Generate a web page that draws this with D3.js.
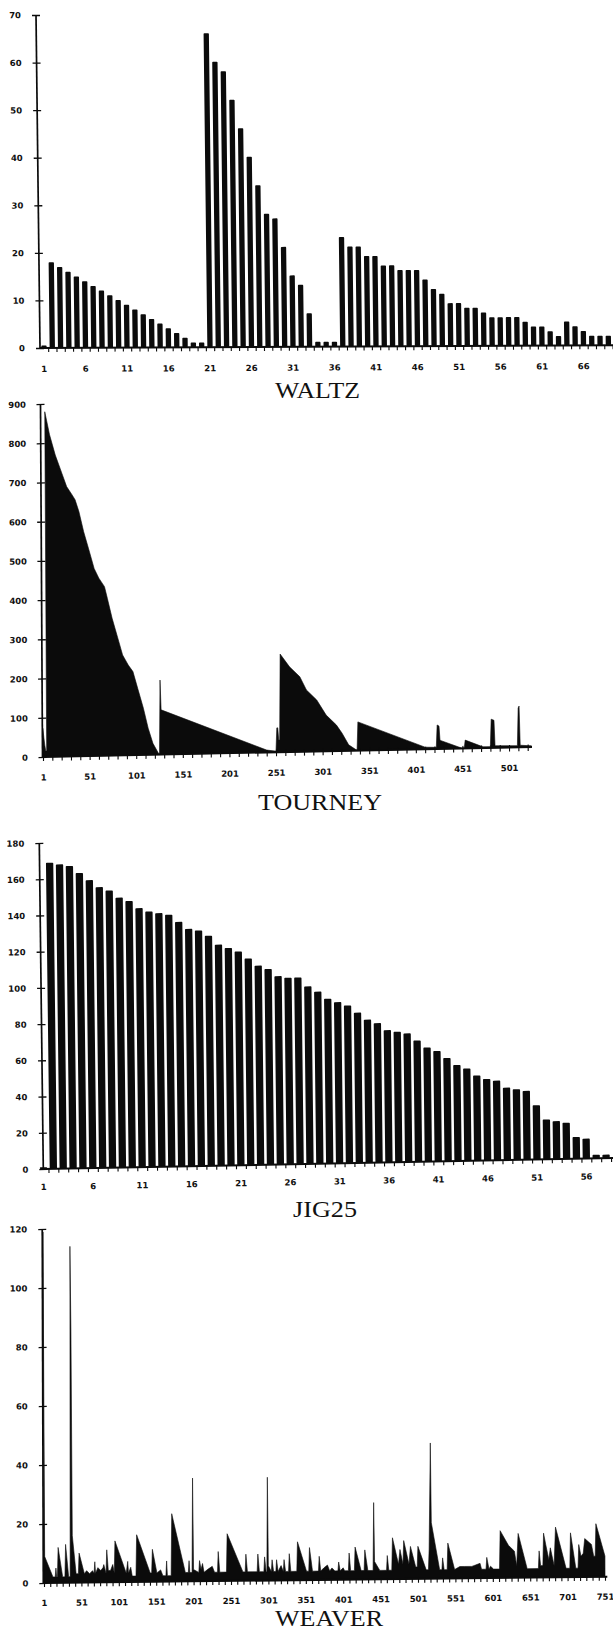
<!DOCTYPE html>
<html><head><meta charset="utf-8">
<script src="https://cdn.jsdelivr.net/npm/d3@7"></script>
<style>
html,body{margin:0;padding:0;background:#fff;}
svg{display:block;}
.tick-label{font-family:"DejaVu Sans",sans-serif;font-weight:bold;font-size:8.5px;fill:#111;}
.title{font-family:"Liberation Serif","Times New Roman",serif;font-size:23px;fill:#111;}
</style></head><body>
<svg id="chart" width="613" height="1633"></svg>
<script>
// ---------------- DATA ----------------
const waltzCategories = d3.range(1, 70);
const waltzValues = [0.5,18,17,16,15,14,13,12,11,10,9,8,7,6,5,4,3,2,1,1,
  66,60,58,52,46,40,34,28,27,21,15,13,7,1,1,1,
  23,21,21,19,19,17,17,16,16,16,14,12,11,9,9,8,8,7,6,6,6,6,5,4,4,3,2,5,4,3,2,2,2];
const waltzYTicks = [0,10,20,30,40,50,60,70];
const waltzXLabels = d3.range(1, 70, 5);

const tourneyPoints = [[1,0],[1,73],[2,50],[3,30],[4,15],[5,15],[5,880],[10,821],[16,769],[23,722],[28,688],
  [34,666],[37,654],[41,624],[46,572],[51,530],[57,478],[62,453],[68,431],[71,401],[76,350],[82,299],
  [87,256],[93,230],[98,213],[103,170],[109,119],[114,68],[119,29],[125,3],[126,3],[127,190],[128,114],
  [241,6],[250,3],[251,3],[252,62],[253,62],[254,31],[255,31],[256,250],[266,217],[277,191],[284,157],
  [295,131],[305,92],[316,66],[322,45],[329,15],[337,2],[338,2],[339,73],[411,5],[423,4],[424,61],
  [426,58],[427,22],[429,20],[450,1],[453,1],[454,21],[473,3],[481,3],[482,73],[485,70],[486,5],
  [510,4],[511,100],[512,105],[513,5],[525,3],[525,0]];
const tourneyYTicks = d3.range(0, 1000, 100);
const tourneyXLabels = d3.range(1, 502, 50);

const jigCategories = d3.range(1, 59);
const jigValues = [1,169,168,167,163,159,155,153,149,147,143,141,140,139,135,131,130,127,122,120,
  118,114,110,108,104,103,103,98,95,91,89,87,83,79,77,73,72,71,67,63,61,57,53,51,47,45,44,40,39,38,
  30,22,21,20,12,11,2,2];
const jigYTicks = d3.range(0, 200, 20);
const jigXLabels = d3.range(1, 57, 5);

const weaverPoints = [[1,0],[1,119],[2,9],[13,2],[16,2],[17,5],[18,2],[19,2],[20,12],[26,2],[29,2],[30,13],
  [34,2],[36,2],[37,114],[38,85],[39,16],[44,3],[47,3],[48,10],[55,3],[58,4],[62,3],[66,4],[68,3],[69,7],
  [70,3],[73,5],[77,4],[80,5],[81,6],[84,3],[85,11],[87,4],[90,4],[93,6],[95,3],[96,14],[111,3],[113,7],
  [114,3],[117,5],[119,2],[124,2],[125,16],[143,3],[145,3],[146,11],[152,3],[157,4],[160,2],[164,2],
  [165,7],[166,2],[171,2],[172,23],[190,3],[194,3],[195,7],[196,3],[199,3],[200,35],[201,4],[208,3],
  [209,7],[211,4],[213,6],[215,3],[220,4],[226,5],[229,3],[233,3],[234,10],[236,3],[245,3],[246,16],
  [267,3],[270,3],[271,9],[273,3],[286,3],[287,9],[289,3],[295,3],[296,8],[298,3],[299,3],[300,35],
  [301,5],[305,3],[306,7],[308,3],[311,3],[312,7],[314,3],[318,5],[321,3],[322,7],[324,3],[328,3],
  [329,9],[331,3],[339,3],[340,13],[352,3],[355,3],[356,11],[360,3],[368,3],[369,8],[371,3],[375,4],
  [380,5],[383,3],[386,4],[390,3],[394,3],[395,6],[397,3],[401,4],[403,3],[408,3],[409,9],[411,3],
  [416,3],[417,11],[425,3],[429,3],[430,10],[434,3],[441,3],[442,26],[443,6],[450,3],[459,3],[460,8],
  [462,3],[466,3],[467,14],[475,5],[477,10],[481,5],[482,13],[489,5],[491,11],[498,4],[500,4],[501,11],
  [512,3],[515,3],[516,10],[518,46],[519,19],[530,3],[533,3],[534,7],[536,3],[540,3],[541,12],[550,3],
  [557,4],[563,4],[573,4],[584,5],[586,3],[592,3],[593,7],[596,3],[598,4],[602,3],[610,3],[611,16],
  [622,11],[630,9],[633,4],[635,15],[647,3],[662,3],[663,9],[665,4],[668,4],[669,15],[672,11],[676,6],
  [678,10],[683,4],[685,17],[699,3],[704,3],[705,15],[712,3],[715,3],[716,11],[719,7],[722,8],[724,13],
  [733,11],[736,7],[738,7],[739,18],[751,7],[751,0]];
const weaverYTicks = d3.range(0, 140, 20);
const weaverXLabels = d3.range(1, 752, 50);

const titles = ["WALTZ", "TOURNEY", "JIG25", "WEAVER"];

// ---------------- DRAWING ----------------
const svg = d3.select("#chart");
const INK = "#0b0b0b";

function panelGroup(c) {
  return svg.append("g").attr("transform", `matrix(1,${c.ky},${c.kx},1,${c.ox},${c.oy})`);
}

function styleAxis(a) {
  a.attr("font-family", null).attr("font-size", null);
  a.selectAll("text").attr("class", "tick-label").attr("fill", null);
  a.selectAll("line").attr("stroke", INK);
  a.select(".domain").remove();
}

function yAxis(g, y, ticks, top, pad) {
  const a = g.append("g").call(d3.axisLeft(y).tickValues(ticks).tickSizeInner(4).tickSizeOuter(0).tickPadding(pad));
  styleAxis(a);
  a.selectAll(".tick line").attr("x1", 4).attr("stroke-width", 1.3);
  g.append("line").attr("x1", 0).attr("x2", 0).attr("y1", 1).attr("y2", y(top))
    .attr("stroke", INK).attr("stroke-width", 1.7);
}

function baseline(g, end) {
  g.append("line").attr("x1", 0).attr("x2", end).attr("y1", 0).attr("y2", 0)
    .attr("stroke", INK).attr("stroke-width", 2);
}

function barPanel(c, cats, vals, yTicks, xLabels) {
  const g = panelGroup(c);
  const r1 = c.r0 + cats.length * c.step;
  const x = d3.scaleBand().domain(cats).range([c.r0, r1]).paddingInner(c.pad).paddingOuter(c.pad / 2);
  const y = d3.scaleLinear().domain([0, c.yMax]).range([0, -c.h]);
  g.selectAll("rect.bar").data(cats).join("rect").attr("class", "bar")
    .attr("x", d => x(d)).attr("width", x.bandwidth())
    .attr("y", (d, i) => y(vals[i])).attr("height", (d, i) => -y(vals[i]))
    .attr("rx", 0.8).attr("fill", INK);
  const xb = d3.scaleLinear().domain([0, cats.length]).range([c.r0, r1]);
  const t = g.append("g").call(d3.axisBottom(xb).tickValues(d3.range(1, cats.length + 1)).tickFormat("").tickSizeInner(4).tickSizeOuter(0));
  styleAxis(t);
  t.selectAll(".tick line").attr("stroke-width", 1.1);
  const l = g.append("g").call(d3.axisBottom(x).tickValues(xLabels).tickSize(0).tickPadding(c.labPad));
  styleAxis(l);
  baseline(g, c.axisEnd);
  yAxis(g, y, yTicks, c.yMax, c.yPad);
}

function areaPanel(c, pts, yTicks, xLabels, tickVals) {
  const g = panelGroup(c);
  const x = d3.scaleLinear().domain(c.domain).range(c.range);
  const y = d3.scaleLinear().domain([0, c.yMax]).range([0, -c.h]);
  const area = d3.area().x(d => x(d[0])).y0(0).y1(d => y(d[1]));
  g.append("path").datum(pts).attr("d", area).attr("fill", INK).attr("stroke", INK).attr("stroke-width", 0.6);
  const t = g.append("g").call(d3.axisBottom(x).tickValues(tickVals).tickFormat("").tickSizeInner(4).tickSizeOuter(0));
  styleAxis(t);
  t.selectAll(".tick line").attr("y1", c.tickUp).attr("stroke-width", 1.1);
  const l = g.append("g").call(d3.axisBottom(x).tickValues(xLabels).tickSize(0).tickPadding(c.labPad));
  styleAxis(l);
  baseline(g, c.axisEnd);
  yAxis(g, y, yTicks, c.yMax, c.yPad);
}

// WALTZ
barPanel({ox: 40, oy: 348, ky: -0.005, kx: 0.012, r0: -0.15, step: 8.3, pad: 0.36,
  yMax: 70, h: 333, axisEnd: 573, labPad: 18, yPad: 11}, waltzCategories, waltzValues, waltzYTicks, waltzXLabels);

// TOURNEY
areaPanel({ox: 42.5, oy: 757, ky: -0.0205, kx: 0.0057, domain: [1, 525], range: [0.5, 488.9],
  yMax: 900, h: 353, axisEnd: 489.5, labPad: 17.5, yPad: 10.5, tickUp: -2.5},
  tourneyPoints, tourneyYTicks, tourneyXLabels, d3.range(1, 526, 10));

// JIG25
barPanel({ox: 43.3, oy: 1169, ky: -0.0192, kx: 0.0123, r0: -4.735, step: 9.87, pad: 0.26,
  yMax: 180, h: 326, axisEnd: 570, labPad: 15, yPad: 11}, jigCategories, jigValues, jigYTicks, jigXLabels);

// WEAVER
areaPanel({ox: 43.3, oy: 1583, ky: -0.0112, kx: 0.003, domain: [1, 751], range: [0.7, 561.7],
  yMax: 120, h: 354, axisEnd: 564, labPad: 17, yPad: 11, tickUp: 0},
  weaverPoints, weaverYTicks, weaverXLabels, d3.range(0, 91).map(k => 1 + k * 50 / 6));

// Titles
const titlePos = [{x: 317.5, y: 398, len: 85}, {x: 320, y: 810, len: 124}, {x: 325, y: 1217, len: 64}, {x: 329, y: 1626, len: 108}];
svg.selectAll("text.title").data(titles).join("text").attr("class", "title")
  .attr("x", (d, i) => titlePos[i].x).attr("y", (d, i) => titlePos[i].y)
  .attr("text-anchor", "middle")
  .attr("textLength", (d, i) => titlePos[i].len).attr("lengthAdjust", "spacingAndGlyphs")
  .text(d => d);
</script>
</body></html>
